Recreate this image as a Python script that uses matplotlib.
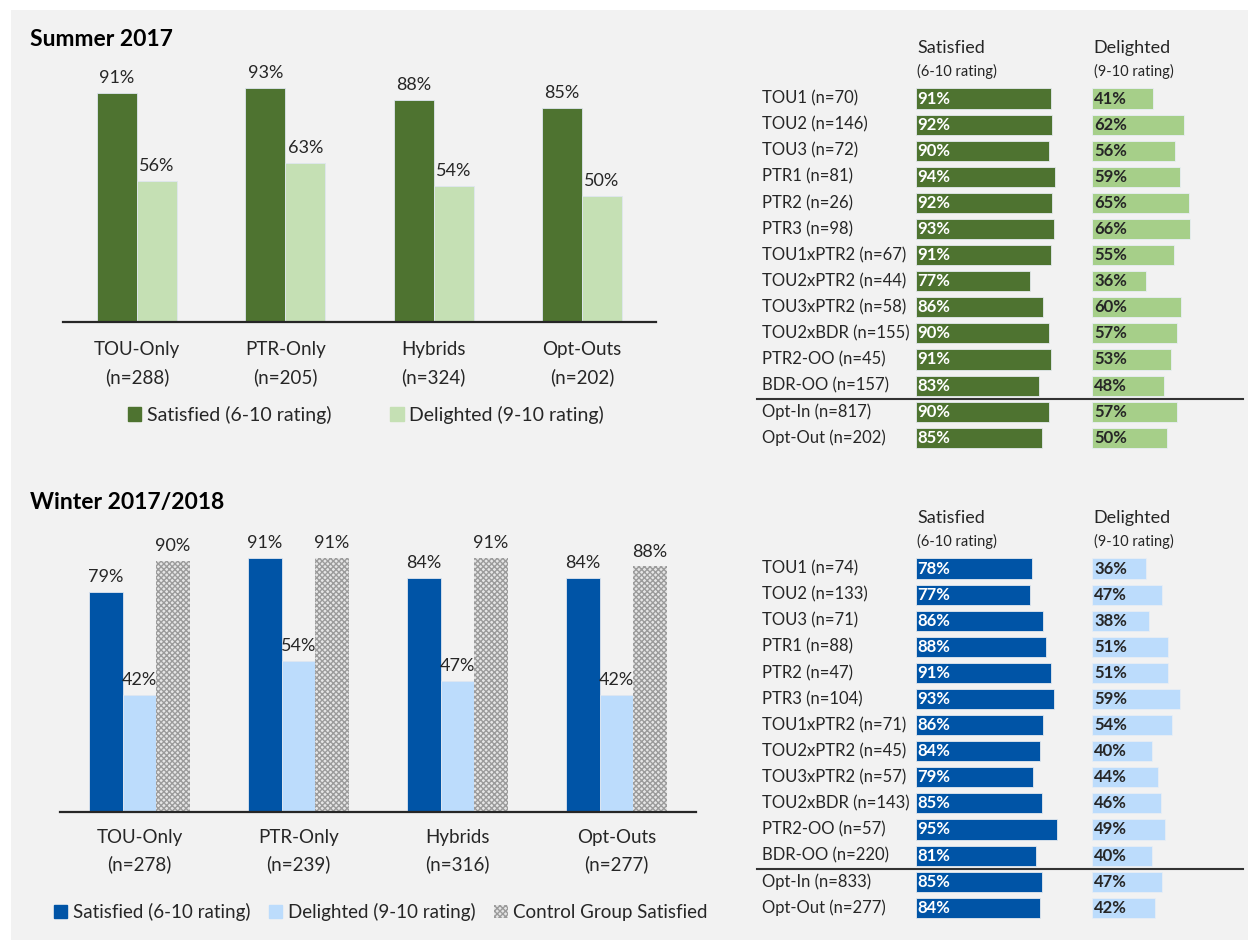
import matplotlib.pyplot as plt
from matplotlib.patches import Rectangle, Patch
import numpy as np

plt.rcParams['font.family'] = ['Lato', 'DejaVu Sans']

# ---- data ----
groups_summer = ['TOU-Only\n(n=288)', 'PTR-Only\n(n=205)', 'Hybrids\n(n=324)', 'Opt-Outs\n(n=202)']
summer_sat = [91, 93, 88, 85]
summer_del = [56, 63, 54, 50]

groups_winter = ['TOU-Only\n(n=278)', 'PTR-Only\n(n=239)', 'Hybrids\n(n=316)', 'Opt-Outs\n(n=277)']
winter_sat = [79, 91, 84, 84]
winter_del = [42, 54, 47, 42]
winter_ctrl = [90, 91, 91, 88]

summer_rows = ['TOU1 (n=70)', 'TOU2 (n=146)', 'TOU3 (n=72)', 'PTR1 (n=81)', 'PTR2 (n=26)',
               'PTR3 (n=98)', 'TOU1xPTR2 (n=67)', 'TOU2xPTR2 (n=44)', 'TOU3xPTR2 (n=58)',
               'TOU2xBDR (n=155)', 'PTR2-OO (n=45)', 'BDR-OO (n=157)', 'Opt-In (n=817)', 'Opt-Out (n=202)']
summer_row_sat = [91, 92, 90, 94, 92, 93, 91, 77, 86, 90, 91, 83, 90, 85]
summer_row_del = [41, 62, 56, 59, 65, 66, 55, 36, 60, 57, 53, 48, 57, 50]

winter_rows = ['TOU1 (n=74)', 'TOU2 (n=133)', 'TOU3 (n=71)', 'PTR1 (n=88)', 'PTR2 (n=47)',
               'PTR3 (n=104)', 'TOU1xPTR2 (n=71)', 'TOU2xPTR2 (n=45)', 'TOU3xPTR2 (n=57)',
               'TOU2xBDR (n=143)', 'PTR2-OO (n=57)', 'BDR-OO (n=220)', 'Opt-In (n=833)', 'Opt-Out (n=277)']
winter_row_sat = [78, 77, 86, 88, 91, 93, 86, 84, 79, 85, 95, 81, 85, 84]
winter_row_del = [36, 47, 38, 51, 51, 59, 54, 40, 44, 46, 49, 40, 47, 42]

DARK_GREEN = '#4e7330'
LIGHT_GREEN = '#c5e0b4'
TABLE_GREEN = '#a6cf89'
BLUE = '#0054a6'
LIGHT_BLUE = '#bcdcfc'
PANEL = '#f2f2f2'
TXT = '#262626'

W, H = 1248, 940
fig = plt.figure(figsize=(W / 100, H / 100), dpi=100)
fig.patch.set_facecolor('white')
fig.patches.append(Rectangle((11 / W, 0), 1, 1 - 10 / H, transform=fig.transFigure,
                             facecolor=PANEL, edgecolor='none', zorder=-10))


def add_ax(x0, y0, x1, y1):
    # pixel box -> figure fraction
    ax = fig.add_axes([x0 / W, 1 - y1 / H, (x1 - x0) / W, (y1 - y0) / H])
    ax.set_facecolor('none')
    return ax


def px_to_axfrac(y_px, top, bottom):
    return (bottom - y_px) / (bottom - top)


def grouped_chart(ax, labels, series, colors, width, top, bottom, label_y, hatches=None):
    x = np.arange(len(labels))
    n = len(series)
    offs = (np.arange(n) - (n - 1) / 2) * width
    for k, (vals, col) in enumerate(zip(series, colors)):
        if hatches and hatches[k]:
            bars = ax.bar(x + offs[k], vals, width, facecolor='#e6e6e6', edgecolor='#9b9b9b',
                          hatch=hatches[k], linewidth=0)
        else:
            bars = ax.bar(x + offs[k], vals, width, color=col, edgecolor='#dfe6f0', linewidth=0.6)
        for b, v in zip(bars, vals):
            ax.annotate(f'{v}%', (b.get_x() + b.get_width() / 2, v), xytext=(0, 5),
                        textcoords='offset points', ha='center', va='bottom',
                        fontsize=13, color=TXT)
    ax.set_xlim(-0.5, len(labels) - 0.5)
    ax.set_ylim(0, 100)
    for s in ['top', 'right', 'left']:
        ax.spines[s].set_visible(False)
    ax.spines['bottom'].set_color('#262626')
    ax.spines['bottom'].set_linewidth(1.6)
    ax.set_yticks([])
    ax.set_xticks([])
    for i, lab in enumerate(labels):
        l1, l2 = lab.split('\n')
        ax.text(i, px_to_axfrac(label_y, top, bottom), l1, transform=ax.get_xaxis_transform(),
                ha='center', va='center', fontsize=13.5, color=TXT)
        ax.text(i, px_to_axfrac(label_y + 27, top, bottom), l2, transform=ax.get_xaxis_transform(),
                ha='center', va='center', fontsize=13.5, color=TXT)


# ---- Summer left ----
ax1 = add_ax(63, 70, 656, 322)
grouped_chart(ax1, groups_summer, [summer_sat, summer_del], [DARK_GREEN, LIGHT_GREEN],
              0.27, 70, 322, 350)
fig.text(30 / W, 1 - 40 / H, 'Summer 2017', fontsize=16.5, fontweight='bold', color='black',
         ha='left', va='center')
ax1.legend(handles=[Patch(color=DARK_GREEN, label='Satisfied (6-10 rating)'),
                    Patch(color=LIGHT_GREEN, label='Delighted (9-10 rating)')],
           loc='center', bbox_to_anchor=(366 / W, 1 - 415 / H), bbox_transform=fig.transFigure,
           ncol=2, frameon=False, fontsize=14, handlelength=0.7, handleheight=0.7,
           handletextpad=0.3, columnspacing=3.0, labelcolor=TXT)

# ---- Winter left ----
ax2 = add_ax(60, 533, 696, 812)
grouped_chart(ax2, groups_winter, [winter_sat, winter_del, winter_ctrl],
              [BLUE, LIGHT_BLUE, '#d0d0d0'], 0.21, 533, 812, 837, hatches=[None, None, 'xxxxxx'])
fig.text(30 / W, 1 - 503 / H, 'Winter 2017/2018', fontsize=16.5, fontweight='bold', color='black',
         ha='left', va='center')
ax2.legend(handles=[Patch(color=BLUE, label='Satisfied (6-10 rating)'),
                    Patch(color=LIGHT_BLUE, label='Delighted (9-10 rating)'),
                    Patch(facecolor='#e6e6e6', edgecolor='#9b9b9b', hatch='xxxxxx', linewidth=0,
                          label='Control Group Satisfied')],
           loc='center', bbox_to_anchor=(381 / W, 1 - 912 / H), bbox_transform=fig.transFigure,
           ncol=3, frameon=False, fontsize=13.5, handlelength=0.7, handleheight=0.7,
           handletextpad=0.3, columnspacing=1.0, labelcolor=TXT)


# ---- right tables ----
SCALE = 1.485          # px per percent
X0 = 915.7             # px where satisfied bars start
DEL_OFF = (1092.3 - X0) / SCALE
ROW_H = 26.1


def table(rows, sat, dele, c_sat, c_del, first_row_px, top_px, bottom_px, sep_px):
    ax = add_ax(740, top_px, W, bottom_px)
    ax.set_xlim(-(X0 - 740) / SCALE, (W - X0) / SCALE)
    ax.set_ylim((bottom_px - first_row_px) / ROW_H, (top_px - first_row_px) / ROW_H)
    ax.axis('off')
    y = np.arange(len(rows))
    ax.barh(y, sat, height=0.77, left=0, color=c_sat, edgecolor='#e4e9ee', linewidth=0.6)
    ax.barh(y, dele, height=0.77, left=DEL_OFF, color=c_del, edgecolor='#e8eef4', linewidth=0.6)
    lx = -(X0 - 762) / SCALE
    for i in range(len(rows)):
        ax.text(lx, y[i], rows[i], ha='left', va='center', fontsize=12, color=TXT)
        ax.text(1.2, y[i], f'{sat[i]}%', ha='left', va='center', fontsize=12,
                fontweight='bold', color='white')
        ax.text(DEL_OFF + 1.2, y[i], f'{dele[i]}%', ha='left', va='center', fontsize=12,
                fontweight='bold', color=TXT)
    hx = 1.0
    ax.text(hx, -1.95, 'Satisfied', ha='left', va='center', fontsize=13, color=TXT)
    ax.text(hx, -1.02, '(6-10 rating)', ha='left', va='center', fontsize=10.5, color=TXT)
    ax.text(DEL_OFF + 1.0, -1.95, 'Delighted', ha='left', va='center', fontsize=13, color=TXT)
    ax.text(DEL_OFF + 1.0, -1.02, '(9-10 rating)', ha='left', va='center', fontsize=10.5, color=TXT)
    sep = (sep_px - first_row_px) / ROW_H
    ax.plot([-(X0 - 757) / SCALE, (1243 - X0) / SCALE], [sep, sep], color='#333333', lw=1.5)


table(summer_rows, summer_row_sat, summer_row_del, DARK_GREEN, TABLE_GREEN, 98.5, 30, 460, 399.3)
table(winter_rows, winter_row_sat, winter_row_del, BLUE, LIGHT_BLUE, 568.5, 495, 930, 869.3)

fig.savefig('out.png', dpi=100, facecolor=fig.get_facecolor())
